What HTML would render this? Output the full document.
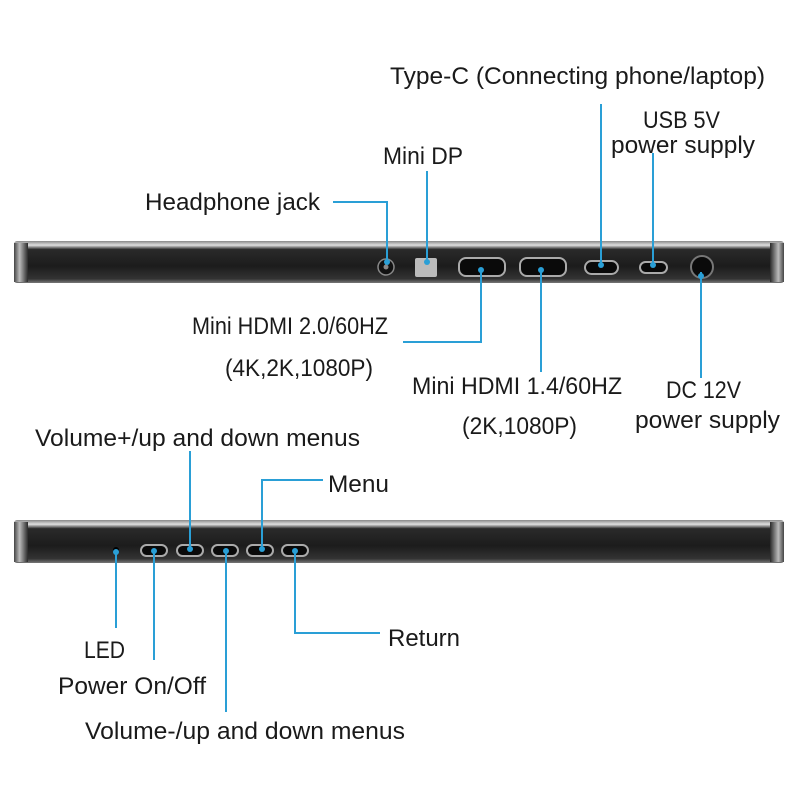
<!DOCTYPE html>
<html><head><meta charset="utf-8"><style>
html,body{margin:0;padding:0;background:#fff;}
svg{display:block;}
text{font-family:"Liberation Sans",sans-serif;font-size:24px;fill:#1a1a1a;}
</style></head><body>
<svg width="800" height="800" viewBox="0 0 800 800" xmlns="http://www.w3.org/2000/svg">
<defs>
<linearGradient id="bar" x1="0" y1="0" x2="0" y2="1">
<stop offset="0" stop-color="#888"/><stop offset="0.1" stop-color="#e0e0e0"/><stop offset="0.2" stop-color="#2a2a2a"/><stop offset="0.6" stop-color="#1c1c1c"/><stop offset="0.9" stop-color="#333"/><stop offset="1" stop-color="#777"/>
</linearGradient>
<linearGradient id="endL" x1="0" y1="0" x2="1" y2="0">
<stop offset="0" stop-color="#444"/><stop offset="0.4" stop-color="#bbb"/><stop offset="1" stop-color="#2a2a2a"/>
</linearGradient>
<linearGradient id="endR" x1="0" y1="0" x2="1" y2="0">
<stop offset="0" stop-color="#2a2a2a"/><stop offset="0.6" stop-color="#bbb"/><stop offset="1" stop-color="#444"/>
</linearGradient>
</defs>
<rect x="14" y="241" width="770" height="42" rx="3" fill="url(#bar)"/>
<rect x="14" y="243" width="14" height="39" fill="url(#endL)"/>
<rect x="770" y="243" width="14" height="39" fill="url(#endR)"/>
<circle cx="386" cy="267" r="8" fill="#111" stroke="#888" stroke-width="1.5"/>
<circle cx="386" cy="267" r="2.5" fill="#888"/>
<rect x="415" y="258" width="22" height="19" rx="2" fill="#bbb"/>
<g fill="#0a0a0a" stroke="#aaa" stroke-width="2">
<rect x="459" y="258" width="46" height="18" rx="7"/>
<rect x="520" y="258" width="46" height="18" rx="7"/>
<rect x="585" y="261" width="33" height="13" rx="6.5"/>
<rect x="640" y="262" width="27" height="11" rx="5.5"/>
</g>
<circle cx="702" cy="267" r="11" fill="#0a0a0a" stroke="#777" stroke-width="2"/>
<rect x="14" y="520" width="770" height="43" rx="3" fill="url(#bar)"/>
<rect x="14" y="522" width="14" height="40" fill="url(#endL)"/>
<rect x="770" y="522" width="14" height="40" fill="url(#endR)"/>
<circle cx="116" cy="550" r="3" fill="#000"/>
<g fill="#0a0a0a" stroke="#aaa" stroke-width="2">
<rect x="141" y="545" width="26" height="11" rx="5.5"/>
<rect x="177" y="545" width="26" height="11" rx="5.5"/>
<rect x="212" y="545" width="26" height="11" rx="5.5"/>
<rect x="247" y="545" width="26" height="11" rx="5.5"/>
<rect x="282" y="545" width="26" height="11" rx="5.5"/>
</g>
<g stroke="#2a9fd6" stroke-width="2" fill="none">
<polyline points="333,202 387,202 387,262"/>
<line x1="427" y1="171" x2="427" y2="262"/>
<line x1="601" y1="104" x2="601" y2="265"/>
<line x1="653" y1="153" x2="653" y2="265"/>
<polyline points="481,270 481,342 403,342"/>
<polyline points="541,270 541,372"/>
<line x1="701" y1="272" x2="701" y2="378"/>
<line x1="190" y1="451" x2="190" y2="549"/>
<polyline points="323,480 262,480 262,549"/>
<line x1="116" y1="550" x2="116" y2="628"/>
<line x1="154" y1="550" x2="154" y2="660"/>
<line x1="226" y1="550" x2="226" y2="712"/>
<polyline points="295,550 295,633 380,633"/>
</g>
<g fill="#2a9fd6">
<circle cx="387" cy="262" r="3"/><circle cx="427" cy="262" r="3"/><circle cx="601" cy="265" r="3"/><circle cx="653" cy="265" r="3"/>
<circle cx="481" cy="270" r="3"/><circle cx="541" cy="270" r="3"/><circle cx="701" cy="276" r="3"/>
<circle cx="190" cy="549" r="3"/><circle cx="262" cy="549" r="3"/><circle cx="116" cy="552" r="3"/><circle cx="154" cy="551" r="3"/><circle cx="226" cy="551" r="3"/><circle cx="295" cy="551" r="3"/>
</g>
<text x="390" y="84" textLength="375" lengthAdjust="spacingAndGlyphs">Type-C (Connecting  phone/laptop)</text>
<text x="643" y="128" textLength="77" lengthAdjust="spacingAndGlyphs">USB 5V</text>
<text x="611" y="153" textLength="144" lengthAdjust="spacingAndGlyphs">power supply</text>
<text x="383" y="164" textLength="80" lengthAdjust="spacingAndGlyphs">Mini DP</text>
<text x="145" y="210" textLength="175" lengthAdjust="spacingAndGlyphs">Headphone jack</text>
<text x="192" y="334" textLength="196" lengthAdjust="spacingAndGlyphs">Mini HDMI 2.0/60HZ</text>
<text x="225" y="376" textLength="148" lengthAdjust="spacingAndGlyphs">(4K,2K,1080P)</text>
<text x="412" y="394" textLength="210" lengthAdjust="spacingAndGlyphs">Mini HDMI 1.4/60HZ</text>
<text x="462" y="434" textLength="115" lengthAdjust="spacingAndGlyphs">(2K,1080P)</text>
<text x="666" y="398" textLength="75" lengthAdjust="spacingAndGlyphs">DC 12V</text>
<text x="635" y="428" textLength="145" lengthAdjust="spacingAndGlyphs">power supply</text>
<text x="35" y="446" textLength="325" lengthAdjust="spacingAndGlyphs">Volume+/up and down menus</text>
<text x="328" y="492" textLength="61" lengthAdjust="spacingAndGlyphs">Menu</text>
<text x="84" y="658" textLength="41" lengthAdjust="spacingAndGlyphs">LED</text>
<text x="58" y="694" textLength="148" lengthAdjust="spacingAndGlyphs">Power On/Off</text>
<text x="388" y="646" textLength="72" lengthAdjust="spacingAndGlyphs">Return</text>
<text x="85" y="739" textLength="320" lengthAdjust="spacingAndGlyphs">Volume-/up and down menus</text>
</svg>
</body></html>
